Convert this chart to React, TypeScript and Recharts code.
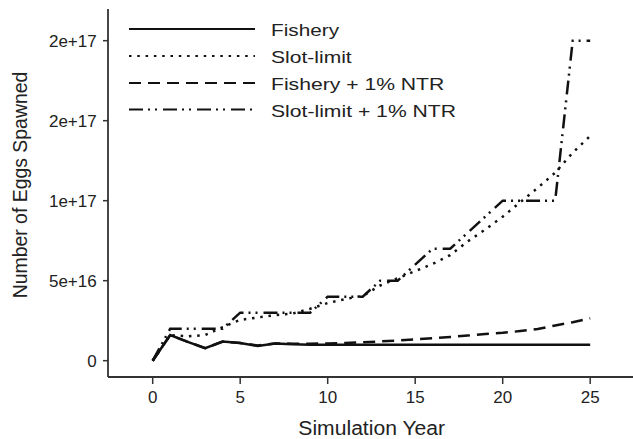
import React from 'react';
import { LineChart, Line, XAxis, YAxis, Legend, Label } from 'recharts';

const W = 633;
const H = 439;
const FONT = '"Liberation Sans", Arial, Helvetica, sans-serif';
const INK = '#111';
const AXIS = '#333';

// Simulation years (x categories)
const years = [0, 1, 2, 3, 4, 5, 6, 7, 8, 9, 10, 11, 12, 13, 14, 15, 16, 17, 18, 19, 20, 21, 22, 23, 24, 25];

// Series values (number of eggs spawned)
const fishery = [
  0, 1.6e16, 1.18e16, 0.78e16, 1.2e16, 1.1e16, 0.92e16, 1.07e16, 1.03e16, 1.0e16,
  1.0e16, 1.0e16, 1.0e16, 1.0e16, 1.0e16, 1.0e16, 1.0e16, 1.0e16, 1.0e16, 1.0e16,
  1.0e16, 1.0e16, 1.0e16, 1.0e16, 1.0e16, 1.0e16,
];
const slotLimit = [
  0, 1.6e16, 1.52e16, 1.6e16, 2.1e16, 2.55e16, 2.7e16, 2.85e16, 2.95e16, 3.25e16,
  3.6e16, 3.85e16, 4.05e16, 4.7e16, 5.15e16, 5.6e16, 6.05e16, 6.6e16, 7.45e16, 8.2e16,
  9.0e16, 9.9e16, 10.8e16, 11.75e16, 13.0e16, 14.05e16,
];
const fisheryNtr = [
  0, 1.6e16, 1.18e16, 0.78e16, 1.2e16, 1.1e16, 0.95e16, 1.08e16, 1.06e16, 1.06e16,
  1.08e16, 1.11e16, 1.15e16, 1.2e16, 1.26e16, 1.33e16, 1.4e16, 1.48e16, 1.57e16, 1.66e16,
  1.74e16, 1.85e16, 1.98e16, 2.2e16, 2.4e16, 2.65e16,
];
const slotLimitNtr = [
  0, 2e16, 2e16, 2e16, 2e16, 3e16, 3e16, 3e16, 3e16, 3e16,
  4e16, 4e16, 4e16, 5e16, 5e16, 6e16, 7e16, 7e16, 8e16, 9e16,
  10e16, 10e16, 10e16, 10e16, 20e16, 20e16,
];

// Axis ticks and their printed labels
const xTicks = [0, 5, 10, 15, 20, 25];
const yTicks = [0, 5e16, 1e17, 1.5e17, 2e17];
const yTickLabels = ['0', '5e+16', '1e+17', '2e+17', '2e+17'];

const seriesNames = ['Fishery', 'Slot-limit', 'Fishery + 1% NTR', 'Slot-limit + 1% NTR'];
const seriesKeys = ['fishery', 'slot', 'fisheryNtr', 'slotNtr'];
const seriesDash = [undefined, '2.5 5.8', '12 7', '14 5 2 5 2 6'];

const data = years.map((year, i) => ({
  year,
  fishery: fishery[i],
  slot: slotLimit[i],
  fisheryNtr: fisheryNtr[i],
  slotNtr: slotLimitNtr[i],
}));

const X_DOMAIN: [number, number] = [-2.554, 27.446];
const Y_DOMAIN: [number, number] = [-1.02e16, 2.198e17];

const XTick = (props: any) => {
  const { x, y, payload } = props;
  return (
    <text x={x} y={y} dy={19.3} textAnchor="middle" fontFamily={FONT} fontSize={17} fill="#222">
      {String(payload.value)}
    </text>
  );
};

const YTick = (props: any) => {
  const { x, y, payload } = props;
  const idx = yTicks.findIndex((v) => Math.abs(v - payload.value) < 1e10);
  const label = idx >= 0 ? yTickLabels[idx] : String(payload.value);
  return (
    <text x={x} y={y} dx={-6.3} dy={6} textAnchor="end" fontFamily={FONT} fontSize={17} fill="#222">
      {label}
    </text>
  );
};

const XTitle = () => (
  <text
    x={371.7}
    y={434.5}
    textAnchor="middle"
    fontFamily={FONT}
    fontSize={20}
    fill="#222"
    textLength={146.7}
    lengthAdjust="spacingAndGlyphs"
  >
    Simulation Year
  </text>
);

const YTitle = () => (
  <text
    x={27.3}
    y={185}
    transform="rotate(-90, 27.3, 185)"
    textAnchor="middle"
    fontFamily={FONT}
    fontSize={20}
    fill="#222"
    textLength={226.7}
    lengthAdjust="spacingAndGlyphs"
  >
    Number of Eggs Spawned
  </text>
);

const legendRowY = [29, 56, 83, 109.5];
const legendTextLen = [68, 80.7, 173.3, 185];

const renderLegend = () => (
  <svg width={W} height={130} style={{ display: 'block' }}>
    {seriesNames.map((name, i) => {
      const y = legendRowY[i];
      return (
        <g key={name}>
          <line x1={129} x2={255} y1={y} y2={y} stroke={INK} strokeWidth={2} strokeDasharray={seriesDash[i]} />
          <text
            x={271}
            y={y + 7}
            fontFamily={FONT}
            fontSize={17}
            fill="#222"
            textLength={legendTextLen[i]}
            lengthAdjust="spacingAndGlyphs"
          >
            {name}
          </text>
        </g>
      );
    })}
  </svg>
);

export default function App() {
  return (
    <div style={{ position: 'absolute', left: 0, top: 0, width: W, height: H, background: '#fff' }}>
      <LineChart width={W} height={H} data={data} margin={{ top: 9, right: 0, bottom: 0, left: 0 }}>
        <XAxis
          xAxisId="main"
          dataKey="year"
          type="number"
          domain={X_DOMAIN}
          ticks={xTicks}
          interval={0}
          allowDataOverflow
          height={62}
          tickSize={7}
          tickMargin={0}
          axisLine={{ stroke: AXIS, strokeWidth: 1.8 }}
          tickLine={{ stroke: AXIS, strokeWidth: 1.5 }}
          tick={(p: any) => <XTick {...p} />}
        >
          <Label content={XTitle} />
        </XAxis>
        <XAxis
          xAxisId="top"
          orientation="top"
          type="number"
          domain={X_DOMAIN}
          allowDataOverflow
          height={0}
          tick={false}
          tickLine={false}
          axisLine={{ stroke: AXIS, strokeWidth: 1.8 }}
        />
        <YAxis
          yAxisId="main"
          type="number"
          domain={Y_DOMAIN}
          ticks={yTicks}
          interval={0}
          allowDataOverflow
          width={108}
          tickSize={5}
          tickMargin={0}
          axisLine={{ stroke: AXIS, strokeWidth: 1.8 }}
          tickLine={{ stroke: AXIS, strokeWidth: 1.5 }}
          tick={(p: any) => <YTick {...p} />}
        >
          <Label content={YTitle} />
        </YAxis>
        <Legend
          layout="vertical"
          align="center"
          verticalAlign="middle"
          wrapperStyle={{ position: 'absolute', left: 0, top: 0, width: W, height: 130, pointerEvents: 'none' }}
          content={renderLegend}
        />
        {seriesKeys.map((k, i) => (
          <Line
            key={k}
            xAxisId="main"
            yAxisId="main"
            dataKey={k}
            name={seriesNames[i]}
            type="linear"
            stroke={INK}
            strokeWidth={2.5}
            strokeDasharray={seriesDash[i]}
            dot={false}
            activeDot={false}
            isAnimationActive={false}
          />
        ))}
      </LineChart>
    </div>
  );
}
